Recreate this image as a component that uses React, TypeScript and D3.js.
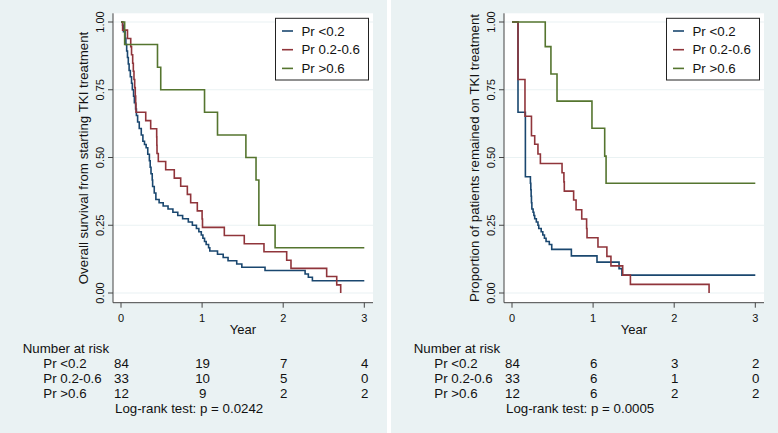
import React from "react";
import * as d3 from "d3";

const W = 778;
const H = 433;

const yearTicks = [0, 1, 2, 3];
const survTicks = [0, 0.25, 0.5, 0.75, 1];
const survTickLabels = ["0.00", "0.25", "0.50", "0.75", "1.00"];
const groupLabels = ["Pr <0.2", "Pr 0.2-0.6", "Pr >0.6"];
const groupColors = ["#1A476F", "#90353B", "#55752F"];

// ---- Left panel: overall survival ----
const osLowTime = [0.02, 0.03, 0.05, 0.06, 0.07, 0.08, 0.09, 0.1, 0.115, 0.13, 0.14, 0.155, 0.165, 0.18, 0.19, 0.205, 0.225, 0.25, 0.27, 0.29, 0.31, 0.33, 0.35, 0.36, 0.37, 0.385, 0.39, 0.41, 0.43, 0.47, 0.52, 0.58, 0.64, 0.7, 0.76, 0.83, 0.88, 0.93, 0.96, 0.99, 1.01, 1.03, 1.05, 1.08, 1.095, 1.19, 1.26, 1.32, 1.427, 1.49, 1.776, 2.27, 2.31, 2.36];
const osLowSurv = [0.988, 0.964, 0.94, 0.917, 0.893, 0.869, 0.845, 0.821, 0.798, 0.774, 0.75, 0.726, 0.702, 0.679, 0.655, 0.631, 0.607, 0.583, 0.56, 0.548, 0.536, 0.512, 0.488, 0.464, 0.44, 0.417, 0.393, 0.369, 0.345, 0.333, 0.321, 0.31, 0.298, 0.286, 0.274, 0.262, 0.25, 0.238, 0.226, 0.214, 0.202, 0.19, 0.179, 0.167, 0.155, 0.143, 0.131, 0.119, 0.107, 0.095, 0.083, 0.07, 0.058, 0.045];
const osMidTime = [0.02, 0.08, 0.12, 0.13, 0.144, 0.152, 0.16, 0.169, 0.176, 0.181, 0.185, 0.305, 0.366, 0.44, 0.442, 0.444, 0.46, 0.551, 0.657, 0.736, 0.818, 0.859, 0.941, 1.0, 1.005, 1.274, 1.52, 1.763, 2.043, 2.096, 2.536, 2.66, 2.709];
const osMidSurv = [0.97, 0.939, 0.909, 0.879, 0.848, 0.818, 0.788, 0.758, 0.727, 0.697, 0.667, 0.636, 0.606, 0.576, 0.545, 0.515, 0.485, 0.455, 0.424, 0.394, 0.364, 0.333, 0.303, 0.273, 0.242, 0.212, 0.182, 0.152, 0.121, 0.091, 0.061, 0.03, 0];
const osHighTime = [0.045, 0.45, 0.49, 1.03, 1.19, 1.54, 1.665, 1.7, 1.9];
const osHighSurv = [0.917, 0.833, 0.75, 0.667, 0.583, 0.5, 0.417, 0.25, 0.167];
const osEnd = [3, null, 3];
const osRiskLow = [84, 19, 7, 4];
const osRiskMid = [33, 10, 5, 0];
const osRiskHigh = [12, 9, 2, 2];
const osTitle = "Overall survival from starting TKI treatment";
const osTest = "Log-rank test: p = 0.0242";

// ---- Right panel: time on TKI treatment ----
const tkLowTime = [0.074, 0.165, 0.227, 0.232, 0.236, 0.24, 0.245, 0.26, 0.27, 0.28, 0.3, 0.32, 0.33, 0.36, 0.38, 0.4, 0.42, 0.46, 0.49, 0.732, 1.048, 1.32, 1.355];
const tkLowSurv = [0.667, 0.429, 0.405, 0.381, 0.357, 0.333, 0.31, 0.298, 0.286, 0.274, 0.262, 0.25, 0.238, 0.226, 0.214, 0.202, 0.19, 0.179, 0.161, 0.137, 0.114, 0.09, 0.066];
const tkMidTime = [0.074, 0.16, 0.24, 0.28, 0.32, 0.35, 0.617, 0.64, 0.645, 0.76, 0.79, 0.86, 0.92, 0.925, 1.06, 1.17, 1.22, 1.365, 1.46, 2.43];
const tkMidSurv = [0.788, 0.652, 0.58, 0.549, 0.513, 0.478, 0.444, 0.41, 0.376, 0.343, 0.307, 0.273, 0.238, 0.204, 0.17, 0.135, 0.1, 0.066, 0.032, 0];
const tkHighTime = [0.41, 0.48, 0.555, 0.986, 1.143, 1.16];
const tkHighSurv = [0.909, 0.808, 0.708, 0.608, 0.505, 0.405];
const tkEnd = [3, null, 3];
const tkRiskLow = [84, 6, 3, 2];
const tkRiskMid = [33, 6, 1, 0];
const tkRiskHigh = [12, 6, 2, 2];
const tkTitle = "Proportion of patients remained on TKI treatment";
const tkTest = "Log-rank test: p = 0.0005";

const FONT = "'Liberation Sans', Arial, Helvetica, sans-serif";
const BG = "#EAF2F3";

type Series = { times: number[]; surv: number[]; end: number | null };

function Panel(props: {
  offsetX: number;
  title: string;
  series: Series[];
  risk: number[][];
  test: string;
}) {
  const { offsetX, title, series, risk, test } = props;
  const plotL = 113, plotR = 373, plotT = 13.3, plotB = 302.7;
  const x = d3.scaleLinear().domain([0, 3]).range([121, 364.3]);
  const y = d3.scaleLinear().domain([0, 1]).range([293, 22]);
  const line = d3
    .line<[number, number]>()
    .x((d) => x(d[0]))
    .y((d) => y(d[1]))
    .curve(d3.curveStepAfter);

  const paths = series.map((s) => {
    const pts: [number, number][] = [[0, 1]];
    s.times.forEach((t, i) => pts.push([t, s.surv[i]]));
    if (s.end !== null) pts.push([s.end, s.surv[s.surv.length - 1]]);
    return line(pts) || "";
  });

  const legX = plotR - 4.5 - 93;
  const legY = 18.3;

  return (
    <g transform={`translate(${offsetX},0)`} fontFamily={FONT}>
      <rect x={0} y={0} width={387} height={H} fill={BG} />
      <rect x={plotL} y={plotT} width={plotR - plotL} height={plotB - plotT} fill="#fff" />
      {survTicks.map((v) => (
        <line key={"g" + v} x1={plotL} x2={plotR} y1={y(v)} y2={y(v)} stroke={BG} strokeWidth={1.2} />
      ))}
      {paths.map((d, i) => (
        <path key={"p" + i} d={d} fill="none" stroke={groupColors[i]} strokeWidth={1.6} />
      ))}
      {/* axes */}
      <line x1={plotL} x2={plotL} y1={plotT} y2={plotB} stroke="#444" strokeWidth={1} />
      <line x1={plotL} x2={plotR} y1={plotB} y2={plotB} stroke="#444" strokeWidth={1} />
      {survTicks.map((v, i) => (
        <g key={"yt" + v}>
          <line x1={plotL - 5} x2={plotL} y1={y(v)} y2={y(v)} stroke="#444" strokeWidth={1} />
          <text
            transform={`translate(${plotL - 9},${y(v)}) rotate(-90)`}
            textAnchor="middle"
            fontSize={11}
            fill="#111"
          >
            {survTickLabels[i]}
          </text>
        </g>
      ))}
      {yearTicks.map((v) => (
        <g key={"xt" + v}>
          <line x1={x(v)} x2={x(v)} y1={plotB} y2={plotB + 5} stroke="#444" strokeWidth={1} />
          <text x={x(v)} y={321.5} textAnchor="middle" fontSize={11} fill="#111">
            {v}
          </text>
        </g>
      ))}
      <text x={(plotL + plotR) / 2} y={334} textAnchor="middle" fontSize={13} fill="#111">
        Year
      </text>
      <text
        transform={`translate(${plotL - 25},${(plotT + plotB) / 2}) rotate(-90)`}
        textAnchor="middle"
        fontSize={13.3}
        fill="#111"
      >
        {title}
      </text>
      {/* legend */}
      <rect x={legX} y={legY} width={93} height={61.7} fill="#fff" stroke="#222" strokeWidth={1} />
      {groupLabels.map((g, i) => (
        <g key={"l" + i}>
          <line
            x1={legX + 6.5}
            x2={legX + 17.5}
            y1={legY + 12.7 + i * 18.7}
            y2={legY + 12.7 + i * 18.7}
            stroke={groupColors[i]}
            strokeWidth={1.6}
          />
          <text x={legX + 26} y={legY + 17.4 + i * 18.7} fontSize={13.3} fill="#111">
            {g}
          </text>
        </g>
      ))}
      {/* risk table */}
      <text x={22.7} y={352.5} fontSize={13.3} fill="#111">
        Number at risk
      </text>
      {risk.map((row, r) => (
        <g key={"r" + r}>
          <text x={43.3} y={367.5 + r * 15} fontSize={13.3} fill="#111">
            {groupLabels[r]}
          </text>
          {row.map((n, j) => (
            <text key={j} x={x(yearTicks[j]) + 0.5} y={367.5 + r * 15} textAnchor="middle" fontSize={13.3} fill="#111">
              {n}
            </text>
          ))}
        </g>
      ))}
      <text x={115} y={412.5} fontSize={13.3} fill="#111">
        {test}
      </text>
    </g>
  );
}

export default function App() {
  const osSeries: Series[] = [
    { times: osLowTime, surv: osLowSurv, end: osEnd[0] },
    { times: osMidTime, surv: osMidSurv, end: osEnd[1] },
    { times: osHighTime, surv: osHighSurv, end: osEnd[2] },
  ];
  const tkSeries: Series[] = [
    { times: tkLowTime, surv: tkLowSurv, end: tkEnd[0] },
    { times: tkMidTime, surv: tkMidSurv, end: tkEnd[1] },
    { times: tkHighTime, surv: tkHighSurv, end: tkEnd[2] },
  ];
  return (
    <svg
      width={W}
      height={H}
      viewBox={`0 0 ${W} ${H}`}
      style={{ position: "absolute", left: 0, top: 0, display: "block" }}
    >
      <rect x={0} y={0} width={W} height={H} fill="#fff" />
      <Panel offsetX={0} title={osTitle} series={osSeries} risk={[osRiskLow, osRiskMid, osRiskHigh]} test={osTest} />
      <Panel offsetX={391} title={tkTitle} series={tkSeries} risk={[tkRiskLow, tkRiskMid, tkRiskHigh]} test={tkTest} />
    </svg>
  );
}
